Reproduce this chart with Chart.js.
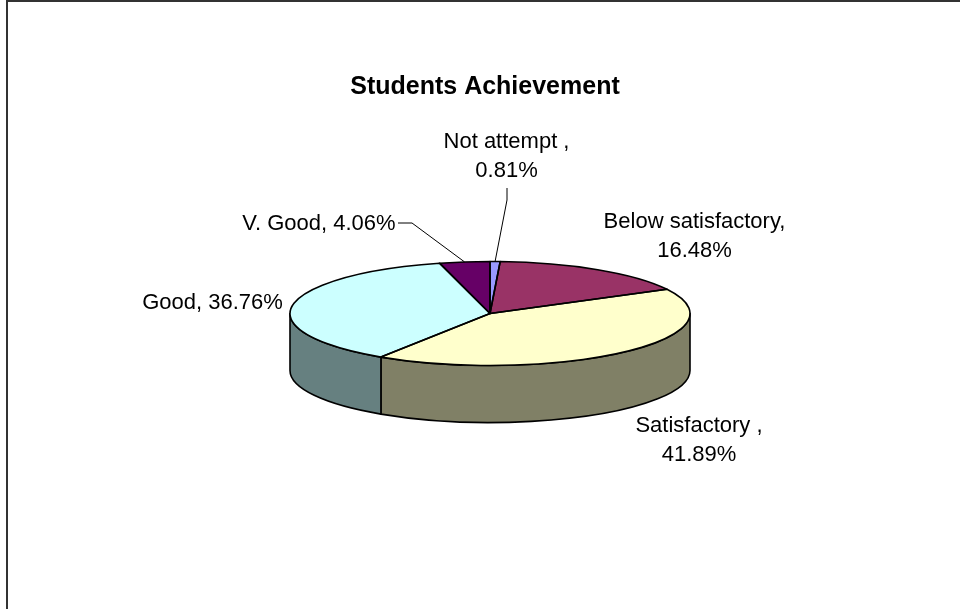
<!DOCTYPE html>
<html><head><meta charset="utf-8">
<style>html,body{margin:0;padding:0;background:#fff}#w{width:960px;height:609px;position:relative}canvas{display:block}</style>
<script src="https://cdn.jsdelivr.net/npm/chart.js@4"></script>
</head><body><div id="w"><canvas id="c" width="960" height="609"></canvas></div>
<script>
const chartTitle = "Students Achievement";
const categories = ["Not attempt ", "Below satisfactory", "Satisfactory ", "Good", "V. Good"];
const values = [0.81, 16.48, 41.89, 36.76, 4.06];
const topColors = ["#9999FF", "#993366", "#FFFFCC", "#CCFFFF", "#660066"];
const wallColors = ["#4C4C80", "#4C1933", "#808066", "#668080", "#330033"];

// Presentation settings
const FONT = '"Liberation Sans", Arial, sans-serif';
const CX = 490, CY = 313.5, RX = 200, SQUASH = 0.26, DEPTH = 57;
const labelLayout = [
  {lines:[0,1], x:506.5, y:[148,177], leader:[[507,188],[507,200]]},
  {lines:[0,1], x:694.5, y:[228,257]},
  {lines:[0,1], x:699, y:[432,461]},
  {lines:[2], x:212.5, y:[309]},
  {lines:[2], x:319, y:[230], leader:[[398,223],[412,223]]}
];
function labelText(i, layout){
  const name = categories[i] + ",";
  const pct = values[i].toFixed(2) + "%";
  return layout.lines.length === 2 ? [name, pct] : [name + " " + pct];
}
function project(a, r){ return [CX + r*Math.cos(a), CY + SQUASH*r*Math.sin(a)]; }

const pie3d = {
  id:'pie3d',
  beforeDatasetDraw(chart){
    const ctx = chart.ctx, arcs = chart.getDatasetMeta(0).data;
    ctx.save();
    ctx.strokeStyle = '#000'; ctx.lineWidth = 1.6; ctx.lineJoin = 'round';
    arcs.forEach((arc,i)=>{
      const p = arc.getProps(['startAngle','endAngle','outerRadius'], true);
      let s = p.startAngle, e = p.endAngle;
      [[0,Math.PI],[2*Math.PI,3*Math.PI]].forEach(([lo,hi])=>{
        const a = Math.max(s,lo), b = Math.min(e,hi);
        if (b <= a) return;
        ctx.beginPath();
        ctx.ellipse(CX,CY,p.outerRadius,p.outerRadius*SQUASH,0,a,b,false);
        ctx.ellipse(CX,CY+DEPTH,p.outerRadius,p.outerRadius*SQUASH,0,b,a,true);
        ctx.closePath();
        ctx.fillStyle = wallColors[i];
        ctx.fill(); ctx.stroke();
      });
    });
    ctx.restore();
    ctx.save();
    const a0 = arcs[0];
    ctx.translate(CX,CY); ctx.scale(1,SQUASH); ctx.translate(-a0.x,-a0.y);
  },
  afterDatasetDraw(chart){
    const ctx = chart.ctx, arcs = chart.getDatasetMeta(0).data;
    ctx.restore();
    ctx.save();
    ctx.strokeStyle = '#000'; ctx.lineWidth = 1.6; ctx.lineJoin = 'round';
    arcs.forEach(arc=>{
      const p = arc.getProps(['startAngle','endAngle','outerRadius'], true);
      ctx.beginPath();
      ctx.moveTo(CX,CY);
      ctx.ellipse(CX,CY,p.outerRadius,p.outerRadius*SQUASH,0,p.startAngle,p.endAngle,false);
      ctx.closePath();
      ctx.stroke();
    });
    ctx.restore();
  },
  afterDraw(chart){
    const ctx = chart.ctx, arcs = chart.getDatasetMeta(0).data;
    ctx.save();
    ctx.strokeStyle = '#333'; ctx.lineWidth = 2;
    ctx.beginPath(); ctx.moveTo(7,609); ctx.lineTo(7,1); ctx.lineTo(960,1); ctx.stroke();
    ctx.fillStyle = '#000'; ctx.font = '22px ' + FONT; ctx.textAlign = 'center'; ctx.textBaseline = 'alphabetic';
    labelLayout.forEach((l,i)=>{
      labelText(i,l).forEach((t,k)=>{
        ctx.fillText(t, l.x, l.y[k]);
      });
      if (l.leader){
        const p = arcs[i].getProps(['startAngle','endAngle','outerRadius'], true);
        const end = project((p.startAngle+p.endAngle)/2, p.outerRadius);
        ctx.strokeStyle = '#000'; ctx.lineWidth = 1;
        ctx.beginPath();
        ctx.moveTo(l.leader[0][0], l.leader[0][1]);
        ctx.lineTo(l.leader[1][0], l.leader[1][1]);
        ctx.lineTo(end[0], end[1]);
        ctx.stroke();
      }
    });
    ctx.restore();
  }
};

new Chart(document.getElementById('c'), {
  type:'pie',
  data:{ labels:categories, datasets:[{ data:values, backgroundColor:topColors, borderWidth:0, clip:false }]},
  options:{
    responsive:false, animation:false, radius:RX,
    layout:{padding:{left:10, top:62}},
    events:[],
    plugins:{
      legend:{display:false}, tooltip:{enabled:false},
      title:{display:true, text:chartTitle, color:'#000', font:{family:FONT, size:25, weight:'bold'}, padding:{top:10,bottom:0}}
    }
  },
  plugins:[pie3d]
});
</script></body></html>
